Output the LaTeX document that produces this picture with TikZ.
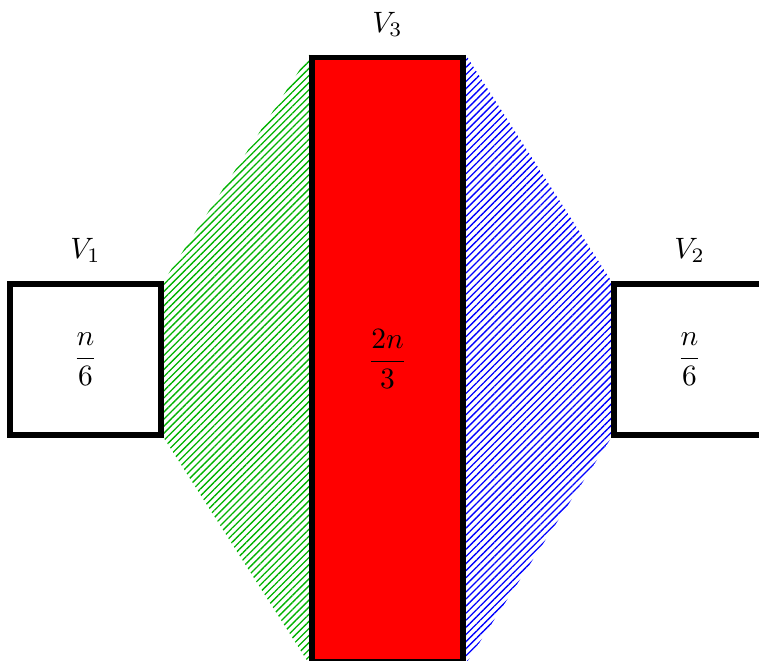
\documentclass[tikz,border=0pt]{standalone}
\usepackage{amsmath}
\usepackage{tikz}
\usetikzlibrary{positioning, patterns.meta, backgrounds}

\begin{document}
\begin{tikzpicture}[
  x=1.8cm, y=1.8cm,
  every node/.style={font=\normalsize, align=center},
  setbox/.style={draw, line width=1.8pt, minimum width=1.8cm, minimum height=1.8cm, inner sep=0pt},
  setlabel/.style={inner sep=3pt},
  hatchL/.style={pattern={Lines[angle=45, distance=1.7pt, line width=0.45pt]}, pattern color=green!70!black},
  hatchR/.style={pattern={Lines[angle=45, distance=1.7pt, line width=0.45pt]}, pattern color=blue}
]
\useasboundingbox (-0.066,-1.497) rectangle (4.96,2.88);

% the three parts
\node[setbox] (v1) at (0.5,0.5) {$\dfrac{n}{6}$};
\node[setbox, fill=red, minimum height=7.2cm] (v3) at (2.5,0.5) {$\dfrac{2n}{3}$};
\node[setbox] (v2) at (4.5,0.5) {$\dfrac{n}{6}$};

% hatched edges between them
\begin{scope}[on background layer]
\fill[hatchL] (v1.north east) -- (v3.north west) -- (v3.south west) -- (v1.south east) -- cycle;
\fill[hatchR] (v3.north east) -- (v2.north west) -- (v2.south west) -- (v3.south east) -- cycle;
\end{scope}

% labels
\node[setlabel, above=3pt of v1] (l1) {$V_1$};
\node[setlabel, above=3pt of v3] (l3) {$V_3$};
\node[setlabel, above=3pt of v2] (l2) {$V_2$};

\end{tikzpicture}
\end{document}
